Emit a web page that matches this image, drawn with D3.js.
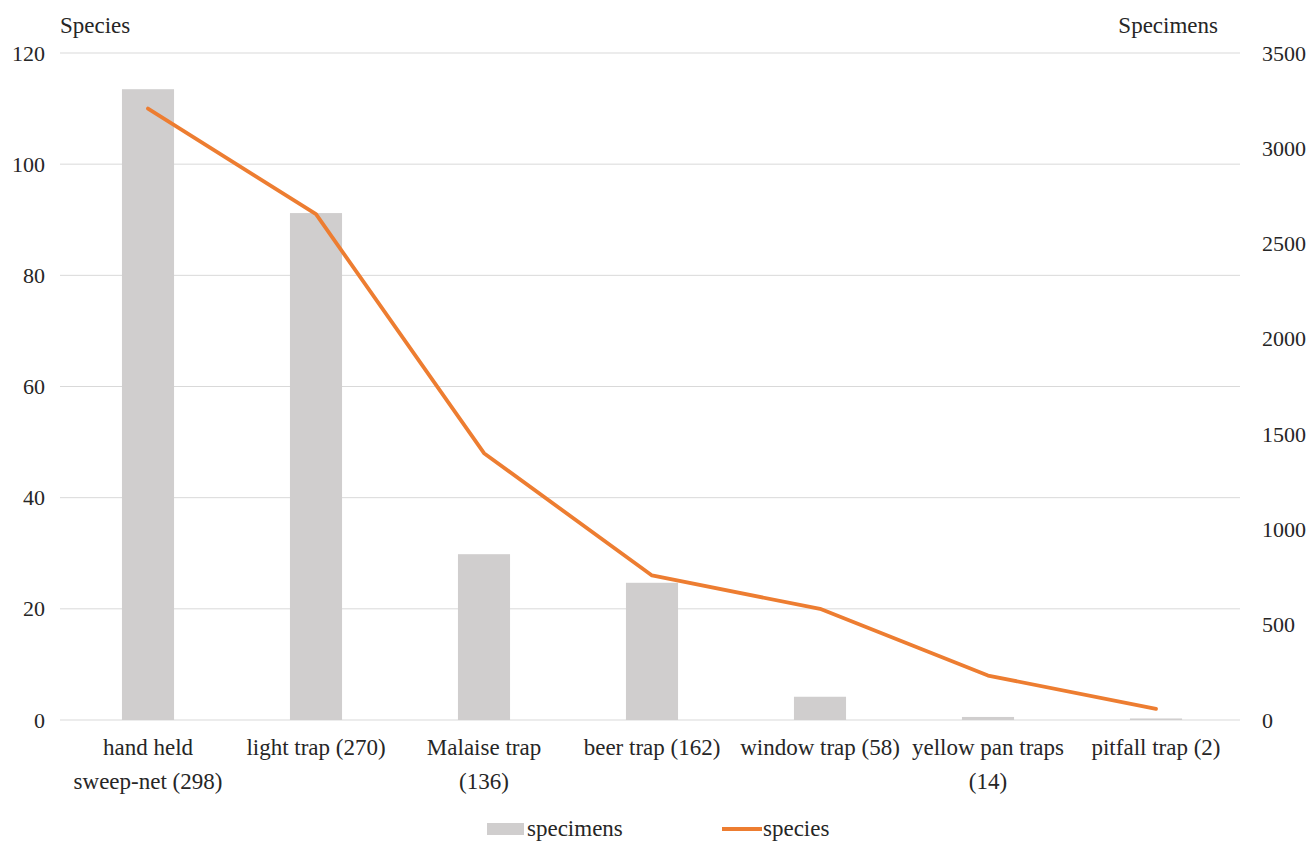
<!DOCTYPE html>
<html>
<head>
<meta charset="utf-8">
<script src="https://cdn.jsdelivr.net/npm/d3@7"></script>
<style>
  html, body { margin: 0; padding: 0; background: #fff; }
  svg { display: block; }
  text { font-family: "Liberation Serif", "DejaVu Serif", serif; fill: #262626; }
</style>
</head>
<body>
<svg id="chart" width="1306" height="841" font-family="Liberation Serif, serif"></svg>
<script>
// Collection methods with sample counts in parentheses
const categories = [
  ["hand held", "sweep-net (298)"],
  ["light trap (270)"],
  ["Malaise trap", "(136)"],
  ["beer trap (162)"],
  ["window trap (58)"],
  ["yellow pan traps", "(14)"],
  ["pitfall trap (2)"]
];
const specimens = [3310, 2660, 870, 720, 122, 16, 8];
const species = [110, 91, 48, 26, 20, 8, 2];
const speciesTicks = [0, 20, 40, 60, 80, 100, 120];
const specimenTicks = [0, 500, 1000, 1500, 2000, 2500, 3000, 3500];

const svg = d3.select("#chart");
const margin = { top: 53, right: 66, bottom: 121, left: 64 };
const W = 1306, H = 841;
const x0 = margin.left, x1 = W - margin.right;
const yTop = margin.top, yBot = H - margin.bottom;
const tickPx = "22px";
const labelPx = "23px";

const keys = categories.map((d, i) => i);
const x = d3.scaleBand().domain(keys).range([x0, x1]).paddingInner(0.69).paddingOuter(0.345);
const xc = d3.scaleBand().domain(keys).range([x0, x1]);
const yL = d3.scaleLinear().domain([0, 120]).range([yBot, yTop]);
const yR = d3.scaleLinear().domain([0, 3500]).range([yBot, yTop]);

// Horizontal gridlines follow the species axis
svg.append("g")
  .selectAll("line")
  .data(speciesTicks)
  .join("line")
  .attr("x1", x0 - 4).attr("x2", x1)
  .attr("y1", d => yL(d)).attr("y2", d => yL(d))
  .attr("stroke", "#d9d9d9").attr("stroke-width", 1);

// Left axis (species)
const leftAxis = svg.append("g")
  .attr("transform", `translate(${x0 - 19},0)`)
  .call(d3.axisLeft(yL).tickValues(speciesTicks).tickFormat(d3.format("d")).tickSize(0).tickPadding(0));
leftAxis.select(".domain").remove();
leftAxis.attr("font-family", null).attr("font-size", null);
leftAxis.selectAll("text").style("font-size", tickPx).attr("fill", "#262626");

// Right axis (specimens)
const rightAxis = svg.append("g")
  .attr("transform", `translate(${x1 + 22},0)`)
  .call(d3.axisRight(yR).tickValues(specimenTicks).tickFormat(d3.format("d")).tickSize(0).tickPadding(0));
rightAxis.select(".domain").remove();
rightAxis.attr("font-family", null).attr("font-size", null);
rightAxis.selectAll("text").style("font-size", tickPx).attr("fill", "#262626");

// Axis titles
svg.append("text").attr("x", 60).attr("y", 33).style("font-size", labelPx).text("Species");
svg.append("text").attr("x", 1218).attr("y", 33).attr("text-anchor", "end").style("font-size", labelPx).text("Specimens");

// Specimen bars
svg.append("g")
  .selectAll("rect")
  .data(specimens)
  .join("rect")
  .attr("x", (d, i) => x(i))
  .attr("width", x.bandwidth())
  .attr("y", d => yR(d))
  .attr("height", d => yBot - yR(d))
  .attr("fill", "#d0cece");

// Species line
const line = d3.line()
  .x((d, i) => xc(i) + xc.bandwidth() / 2)
  .y(d => yL(d));
svg.append("path")
  .datum(species)
  .attr("d", line)
  .attr("fill", "none")
  .attr("stroke", "#ed7d31")
  .attr("stroke-width", 3.8)
  .attr("stroke-linejoin", "round")
  .attr("stroke-linecap", "round");

// Category labels
const cat = svg.append("g")
  .selectAll("text")
  .data(categories)
  .join("text")
  .attr("x", (d, i) => xc(i) + xc.bandwidth() / 2)
  .attr("y", 755)
  .attr("text-anchor", "middle")
  .style("font-size", labelPx);
cat.selectAll("tspan")
  .data(d => d)
  .join("tspan")
  .attr("x", function () { return d3.select(this.parentNode).attr("x"); })
  .attr("dy", (d, i) => i === 0 ? 0 : 34)
  .text(d => d);

// Legend
const lg = svg.append("g");
lg.append("rect").attr("x", 487).attr("y", 823).attr("width", 37).attr("height", 12).attr("fill", "#d0cece");
lg.append("text").attr("x", 527).attr("y", 836).style("font-size", labelPx).text("specimens");
lg.append("line").attr("x1", 722).attr("x2", 762).attr("y1", 829).attr("y2", 829)
  .attr("stroke", "#ed7d31").attr("stroke-width", 3.8);
lg.append("text").attr("x", 763).attr("y", 836).style("font-size", labelPx).text("species");
</script>
</body>
</html>
